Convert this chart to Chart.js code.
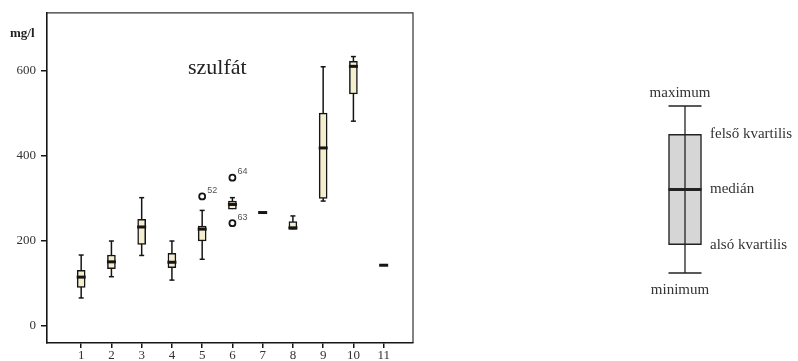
<!DOCTYPE html>
<html>
<head>
<meta charset="utf-8">
<script src="https://cdn.jsdelivr.net/npm/chart.js@4.4.1/dist/chart.umd.min.js"></script>
<style>
  html, body { margin: 0; padding: 0; background: #fff; }
  #wrap { position: relative; width: 798px; height: 361px; }
  #mainBox { position: absolute; left: 0; top: 0; width: 420px; height: 361px; }
  #keyBox { position: absolute; left: 600px; top: 0; width: 198px; height: 361px; }
</style>
</head>
<body>
<div id="wrap">
  <div id="mainBox"><canvas id="mainChart"></canvas></div>
  <div id="keyBox"><canvas id="keyChart"></canvas></div>
</div>
<script>
// box plot data (mg/l)
const categories = [1, 2, 3, 4, 5, 6, 7, 8, 9, 10, 11];
const whiskerMin = [66, 116, 166, 108, 157, 275, 267, 227, 294, 482, 143];
const lowerQuartile = [91, 135, 192, 137, 200, 275, 267, 227, 300, 546, 143];
const medianValues = [115, 151, 233, 150, 228, 286, 267, 231, 419, 611, 143];
const upperQuartile = [131, 167, 251, 171, 235, 294, 267, 246, 501, 623, 143];
const whiskerMax = [167, 200, 302, 200, 272, 302, 267, 259, 610, 634, 143];

const outlierCategory = [5, 6, 6];
const outlierValues = [305, 349, 242];
const outlierIds = ['52', '64', '63'];

const yTicks = [0, 200, 400, 600];

// schematic box for the explanation on the right
const keyValues = [0, 17, 50, 83, 100]; // min, q1, median, q3, max
const keyLabels = ['minimum', 'alsó kvartilis', 'medián', 'felső kvartilis', 'maximum'];

const serif = "'Liberation Serif', 'DejaVu Serif', serif";
const ink = '#151515';

// whiskers under the boxes, medians and labels over them
const boxPlotPlugin = {
  id: 'boxPlot',
  beforeDatasetsDraw(chart) {
    const { ctx, scales: { x, y } } = chart;
    ctx.save();
    ctx.strokeStyle = ink;
    ctx.lineWidth = 1.5;
    categories.forEach((c, i) => {
      const px = x.getPixelForValue(c);
      const top = y.getPixelForValue(whiskerMax[i]);
      const bot = y.getPixelForValue(whiskerMin[i]);
      ctx.beginPath();
      ctx.moveTo(px, top); ctx.lineTo(px, bot);
      ctx.stroke();
      if (whiskerMax[i] > upperQuartile[i]) {
        ctx.beginPath(); ctx.moveTo(px - 2.5, top); ctx.lineTo(px + 2.5, top); ctx.stroke();
      }
      if (whiskerMin[i] < lowerQuartile[i]) {
        ctx.beginPath(); ctx.moveTo(px - 2.5, bot); ctx.lineTo(px + 2.5, bot); ctx.stroke();
      }
    });
    ctx.restore();
  },
  afterDatasetsDraw(chart) {
    const { ctx, scales: { x, y }, chartArea } = chart;
    ctx.save();
    ctx.strokeStyle = ink;
    ctx.lineWidth = 3;
    categories.forEach((c, i) => {
      const px = x.getPixelForValue(c);
      const py = y.getPixelForValue(medianValues[i]);
      ctx.beginPath(); ctx.moveTo(px - 4.5, py); ctx.lineTo(px + 4.5, py); ctx.stroke();
    });
    // outlier case numbers
    ctx.fillStyle = '#555';
    ctx.font = "9px 'Liberation Sans', Arial, sans-serif";
    ctx.textBaseline = 'middle';
    outlierCategory.forEach((c, i) => {
      ctx.fillText(outlierIds[i], x.getPixelForValue(c) + 5, y.getPixelForValue(outlierValues[i]) - 6);
    });
    // frame on top and right
    ctx.strokeStyle = '#333';
    ctx.lineWidth = 1.2;
    ctx.beginPath();
    ctx.moveTo(chartArea.left, chartArea.top);
    ctx.lineTo(chartArea.right, chartArea.top);
    ctx.lineTo(chartArea.right, chartArea.bottom);
    ctx.stroke();
    // title and unit
    ctx.fillStyle = '#222';
    ctx.textBaseline = 'alphabetic';
    ctx.font = '22px ' + serif;
    ctx.fillText('szulfát', 188, 74);
    ctx.font = 'bold 13px ' + serif;
    ctx.fillText('mg/l', 10, 37);
    ctx.restore();
  }
};

new Chart(document.getElementById('mainChart'), {
  type: 'bar',
  data: {
    datasets: [{
      type: 'bar',
      data: categories.map((c, i) => ({ x: c, y: [lowerQuartile[i], upperQuartile[i]] })),
      backgroundColor: '#f4eecf',
      borderColor: ink,
      borderWidth: 1.5,
      borderSkipped: false,
      barThickness: 8
    }, {
      type: 'scatter',
      data: outlierCategory.map((c, i) => ({ x: c, y: outlierValues[i] })),
      pointRadius: 3,
      pointBorderWidth: 1.8,
      pointBackgroundColor: '#fff',
      pointBorderColor: ink
    }]
  },
  options: {
    responsive: true,
    maintainAspectRatio: false,
    animation: false,
    layout: { padding: { top: 12, right: 7, left: 0, bottom: 0 } },
    plugins: { legend: { display: false }, tooltip: { enabled: false } },
    scales: {
      x: {
        type: 'linear',
        min: -0.13,
        max: 11.97,
        offset: false,
        afterBuildTicks: s => { s.ticks = categories.map(v => ({ value: v })); },
        afterFit: s => { s.height = 18; },
        ticks: { font: { family: serif, size: 13 }, color: '#333', padding: 0, maxRotation: 0 },
        grid: { offset: false, drawOnChartArea: false, drawTicks: true, tickLength: 5, color: ink, lineWidth: 1.5 },
        border: { display: true, color: ink, width: 1.6 }
      },
      y: {
        type: 'linear',
        min: -40,
        max: 737,
        afterBuildTicks: s => { s.ticks = yTicks.map(v => ({ value: v })); },
        afterFit: s => { s.width = 47; },
        ticks: { font: { family: serif, size: 13 }, color: '#333', padding: 5 },
        grid: { drawOnChartArea: false, drawTicks: true, tickLength: 6, color: ink, lineWidth: 1.5 },
        border: { display: true, color: ink, width: 1.6 }
      }
    }
  },
  plugins: [boxPlotPlugin]
});

// explanation box
const keyPlugin = {
  id: 'keyBox',
  afterDatasetsDraw(chart) {
    const { ctx, scales: { x, y } } = chart;
    const px = x.getPixelForValue(1);
    const half = 16.5;
    const py = keyValues.map(v => y.getPixelForValue(v));
    ctx.save();
    ctx.strokeStyle = '#222';
    ctx.lineWidth = 1.3;
    ctx.beginPath(); ctx.moveTo(px, py[4]); ctx.lineTo(px, py[0]); ctx.stroke();
    ctx.lineWidth = 1.6;
    [py[0], py[4]].forEach(v => {
      ctx.beginPath(); ctx.moveTo(px - half, v); ctx.lineTo(px + half, v); ctx.stroke();
    });
    ctx.lineWidth = 3;
    ctx.beginPath(); ctx.moveTo(px - half, py[2]); ctx.lineTo(px + half, py[2]); ctx.stroke();
    ctx.fillStyle = '#333';
    ctx.font = '15px ' + serif;
    ctx.textBaseline = 'middle';
    ctx.textAlign = 'center';
    ctx.fillText(keyLabels[4], px - 5, py[4] - 13);
    ctx.fillText(keyLabels[0], px - 5, py[0] + 17);
    ctx.textAlign = 'left';
    [1, 2, 3].forEach(k => ctx.fillText(keyLabels[k], px + 25, py[k]));
    ctx.restore();
  }
};

new Chart(document.getElementById('keyChart'), {
  type: 'bar',
  data: {
    datasets: [{
      data: [{ x: 1, y: [keyValues[1], keyValues[3]] }],
      backgroundColor: '#d6d6d6',
      borderColor: '#222',
      borderWidth: 1.5,
      borderSkipped: false,
      barThickness: 33
    }]
  },
  options: {
    responsive: true,
    maintainAspectRatio: false,
    animation: false,
    layout: { padding: { top: 106, bottom: 88, left: 55, right: 83 } },
    plugins: { legend: { display: false }, tooltip: { enabled: false } },
    scales: {
      x: { type: 'linear', min: 0, max: 2, offset: false, display: false },
      y: { type: 'linear', min: 0, max: 100, display: false }
    }
  },
  plugins: [keyPlugin]
});
</script>
</body>
</html>
